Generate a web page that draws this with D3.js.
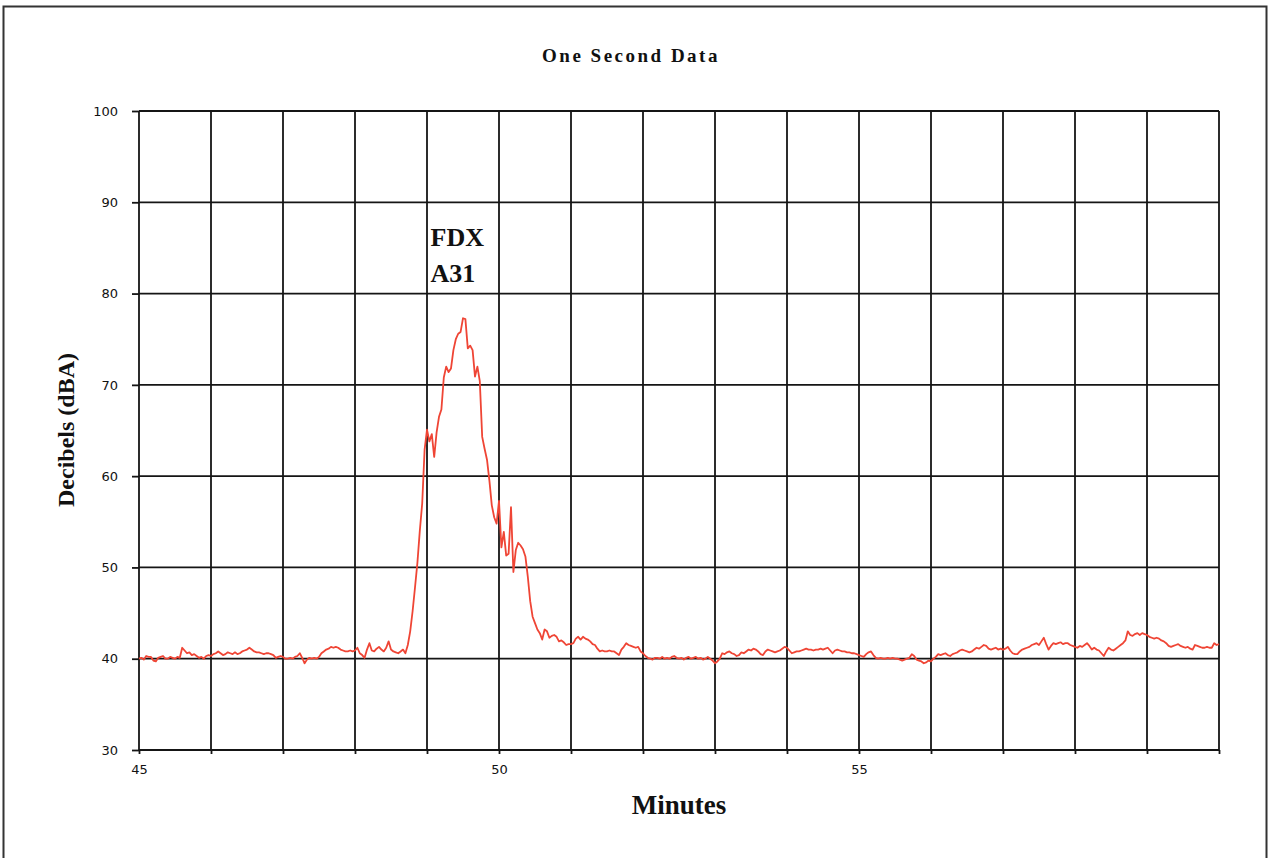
<!DOCTYPE html>
<html>
<head>
<meta charset="utf-8">
<script src="https://cdn.jsdelivr.net/npm/d3@7"></script>
<style>
  html, body { margin: 0; padding: 0; background: #fff; }
  svg { display: block; }
  .tick text { font-family: "DejaVu Sans", Verdana, sans-serif; font-size: 13px; fill: #111; }
  .serif { font-family: "Liberation Serif", "Times New Roman", serif; font-weight: bold; fill: #111; }
</style>
</head>
<body>
<svg id="chart" width="1268" height="858"></svg>
<script>
// Sound level, one reading every 2 seconds, minute 45 to minute 60 (dBA)
const levelsMin45 = [40.0,40.1,39.9,40.3,40.2,40.2,39.8,39.7,40.1,40.2,40.3,40.0,40.0,40.2,40.1,40.0,40.2,40.1,41.2,40.9,40.6,40.7,40.4,40.5,40.3,40.1,40.2,40.0,40.3,40.4];
const levelsMin46 = [40.3,40.5,40.6,40.8,40.6,40.4,40.5,40.7,40.6,40.5,40.7,40.5,40.6,40.8,40.9,41.0,41.2,41.0,40.8,40.7,40.7,40.6,40.5,40.6,40.6,40.5,40.4,40.1,40.2,40.3];
const levelsMin47 = [40.2,40.0,40.0,40.1,40.0,40.2,40.3,40.6,40.1,39.5,39.9,40.1,40.0,40.1,40.0,40.2,40.6,40.8,41.0,41.1,41.3,41.2,41.3,41.2,41.0,40.9,40.8,40.8,40.9,40.8];
const levelsMin48 = [40.9,41.2,40.6,40.4,40.1,41.0,41.7,40.9,40.8,41.1,41.3,41.0,40.8,41.2,41.9,41.0,40.8,40.7,40.6,40.8,41.0,40.6,41.5,43.0,45.2,47.8,50.5,54.0,57.0,62.9];
const levelsMin49 = [65.1,63.8,64.6,62.1,64.8,66.5,67.3,70.8,72.0,71.4,71.8,73.8,75.0,75.6,75.8,77.3,77.2,74.0,74.3,73.8,70.9,72.0,70.4,64.3,63.0,61.8,59.5,56.8,55.5,54.8];
const levelsMin50 = [57.3,52.2,53.9,51.3,51.5,56.6,49.5,51.9,52.7,52.4,52.0,51.2,49.0,46.3,44.6,43.9,43.2,42.8,42.1,43.2,43.0,42.3,42.5,42.6,42.4,41.9,42.0,41.8,41.5,41.6];
const levelsMin51 = [41.6,41.7,42.2,42.4,42.1,42.4,42.2,42.1,41.9,41.6,41.5,41.1,40.8,40.9,40.8,40.8,40.9,40.8,40.8,40.6,40.4,41.0,41.3,41.7,41.5,41.4,41.3,41.2,41.3,40.8];
const levelsMin52 = [40.6,40.3,40.1,40.0,39.9,40.1,40.1,40.0,40.2,40.0,40.1,40.0,40.2,40.3,40.1,40.0,40.1,39.9,40.1,40.2,40.0,40.1,40.2,40.0,40.1,39.9,40.0,40.2,40.0,39.8];
const levelsMin53 = [39.5,39.7,40.0,40.6,40.5,40.7,40.8,40.6,40.5,40.3,40.4,40.7,40.6,40.8,41.0,40.9,41.1,41.0,40.8,40.5,40.4,40.8,41.0,40.9,40.8,40.7,40.8,40.9,41.1,41.3];
const levelsMin54 = [41.2,40.9,40.6,40.7,40.8,40.8,40.9,41.0,41.1,41.0,41.0,40.9,41.0,41.0,41.1,41.0,41.1,41.2,40.9,40.6,40.9,41.0,40.9,40.8,40.8,40.7,40.7,40.6,40.6,40.5];
const levelsMin55 = [40.4,40.3,40.2,40.5,40.7,40.8,40.4,40.1,40.0,40.1,40.0,40.0,40.1,40.0,40.1,40.0,40.0,39.9,39.8,39.9,40.0,40.1,40.5,40.3,39.9,39.8,39.7,39.5,39.6,39.8];
const levelsMin56 = [39.7,40.0,40.2,40.5,40.4,40.5,40.6,40.4,40.3,40.5,40.6,40.7,40.9,41.0,40.9,40.8,40.7,40.8,41.0,41.2,41.1,41.3,41.5,41.4,41.1,41.0,41.1,41.2,41.0,41.1];
const levelsMin57 = [41.0,41.1,41.3,40.9,40.6,40.5,40.5,40.8,41.0,41.1,41.2,41.3,41.5,41.6,41.7,41.5,41.9,42.3,41.6,41.0,41.4,41.7,41.6,41.7,41.8,41.6,41.7,41.7,41.5,41.4];
const levelsMin58 = [41.3,41.2,41.4,41.3,41.5,41.7,41.4,41.0,41.2,41.0,40.9,40.6,40.3,40.8,41.2,41.0,40.9,41.1,41.3,41.5,41.7,42.0,43.0,42.6,42.5,42.7,42.8,42.6,42.8,42.7];
const levelsMin59 = [42.6,42.4,42.3,42.2,42.3,42.2,42.0,41.9,41.7,41.4,41.3,41.4,41.5,41.6,41.4,41.3,41.2,41.3,41.1,41.0,41.5,41.4,41.3,41.2,41.2,41.3,41.2,41.2,41.7,41.5];
const levelsMin60 = [41.6];

const startMinute = 45;
const sampleStepSeconds = 2;

const yTickValues = [30, 40, 50, 60, 70, 80, 90, 100];
const xGridMinutes = [45, 46, 47, 48, 49, 50, 51, 52, 53, 54, 55, 56, 57, 58, 59, 60];
const xLabelMinutes = [45, 50, 55];

const chartTitle = "One Second Data";
const xTitle = "Minutes";
const yTitle = "Decibels (dBA)";
const eventLabel = ["FDX", "A31"];
const eventMinute = 49.05;

const levels = [].concat(levelsMin45, levelsMin46, levelsMin47, levelsMin48, levelsMin49,
  levelsMin50, levelsMin51, levelsMin52, levelsMin53, levelsMin54, levelsMin55,
  levelsMin56, levelsMin57, levelsMin58, levelsMin59, levelsMin60);
const series = levels.map((v, i) => ({ minute: startMinute + i * sampleStepSeconds / 60, dba: v }));

const svg = d3.select("#chart");
const plot = { left: 139, right: 1219, top: 111, bottom: 750 };

const x = d3.scaleLinear().domain([45, 60]).range([plot.left, plot.right]);
const y = d3.scaleLinear().domain([30, 100]).range([plot.bottom, plot.top]);

// page frame
svg.append("rect")
  .attr("x", 3.5).attr("y", 6.5)
  .attr("width", 1263).attr("height", 870)
  .attr("fill", "#fff").attr("stroke", "#333").attr("stroke-width", 2);

const gridColor = "#151515";
const gridWidth = 1.8;

// horizontal grid
svg.append("g").selectAll("line").data(yTickValues).join("line")
  .attr("x1", plot.left).attr("x2", plot.right)
  .attr("y1", d => y(d)).attr("y2", d => y(d))
  .attr("stroke", gridColor).attr("stroke-width", gridWidth);

// vertical grid
svg.append("g").selectAll("line").data(xGridMinutes).join("line")
  .attr("x1", d => x(d)).attr("x2", d => x(d))
  .attr("y1", plot.top).attr("y2", plot.bottom)
  .attr("stroke", gridColor).attr("stroke-width", gridWidth);

// axes
const yAxis = d3.axisLeft(y).tickValues(yTickValues).tickSize(7).tickPadding(14).tickFormat(d3.format("d"));
const yG = svg.append("g").attr("transform", `translate(${plot.left},0)`).call(yAxis);
yG.select(".domain").remove();
yG.selectAll(".tick line").attr("stroke", gridColor).attr("stroke-width", gridWidth);

const xAxis = d3.axisBottom(x).tickValues(xGridMinutes).tickSize(4).tickPadding(11)
  .tickFormat(d => xLabelMinutes.includes(d) ? d3.format("d")(d) : "");
const xG = svg.append("g").attr("transform", `translate(0,${plot.bottom})`).call(xAxis);
xG.select(".domain").remove();
xG.selectAll(".tick line").attr("stroke", gridColor).attr("stroke-width", gridWidth);

// data trace
const line = d3.line().x(d => x(d.minute)).y(d => y(d.dba));
svg.append("path")
  .datum(series)
  .attr("d", line)
  .attr("fill", "none")
  .attr("stroke", "#ef4535")
  .attr("stroke-width", 1.8)
  .attr("stroke-linejoin", "round");

// titles
svg.append("text").attr("class", "serif")
  .attr("x", 631).attr("y", 62)
  .attr("text-anchor", "middle")
  .attr("font-size", 19).attr("letter-spacing", 2.5)
  .text(chartTitle);

svg.append("text").attr("class", "serif")
  .attr("x", 679).attr("y", 814)
  .attr("text-anchor", "middle")
  .attr("font-size", 27)
  .text(xTitle);

svg.append("text").attr("class", "serif")
  .attr("transform", "translate(74,430) rotate(-90)")
  .attr("text-anchor", "middle")
  .attr("font-size", 24)
  .text(yTitle);

// event annotation
const ann = svg.append("text").attr("class", "serif")
  .attr("font-size", 26);
ann.selectAll("tspan").data(eventLabel).join("tspan")
  .attr("x", x(eventMinute))
  .attr("y", (d, i) => 246 + i * 36)
  .text(d => d);
</script>
</body>
</html>
